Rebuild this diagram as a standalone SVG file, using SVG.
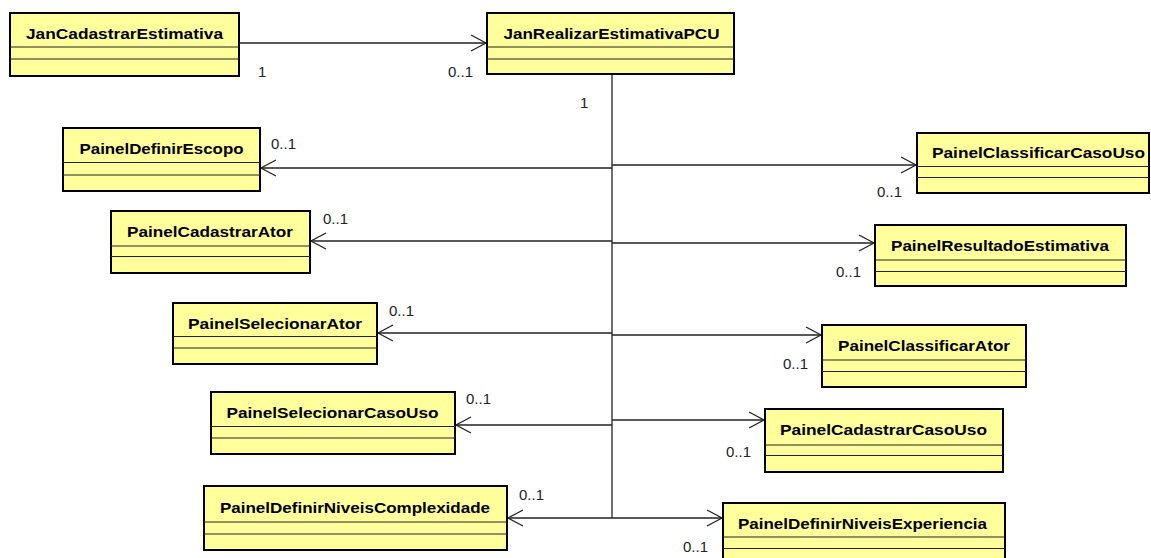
<svg xmlns="http://www.w3.org/2000/svg" width="1151" height="558" viewBox="0 0 1151 558">
  <style>
    .box { fill: #ffff9c; stroke: #000; stroke-width: 2; }
    .sep { stroke: #222; stroke-width: 1; }
    .title { font-family: "Liberation Sans", Arial, sans-serif; font-size: 15px; font-weight: bold; fill: #000; text-anchor: middle; }
    .mult { font-family: "Liberation Sans", Arial, sans-serif; font-size: 15px; fill: #222; }
    .link { stroke: #222; stroke-width: 1.3; fill: none; }
  </style>
  <defs>
    <marker id="open" markerUnits="userSpaceOnUse" markerWidth="18" markerHeight="20" viewBox="0 0 18 20" refX="16" refY="10" orient="auto">
      <path d="M1,2 L16,10 L1,18" fill="none" stroke="#222" stroke-width="1.3"/>
    </marker>
  </defs>

  <g id="connectors">
    <line class="link" x1="240" y1="43" x2="486" y2="43" marker-end="url(#open)"/>
    <line class="link" x1="612" y1="74" x2="612" y2="518"/>
    <line class="link" x1="612" y1="168" x2="261" y2="168" marker-end="url(#open)"/>
    <line class="link" x1="612" y1="165" x2="916" y2="165" marker-end="url(#open)"/>
    <line class="link" x1="612" y1="241" x2="311" y2="241" marker-end="url(#open)"/>
    <line class="link" x1="612" y1="243" x2="874" y2="243" marker-end="url(#open)"/>
    <line class="link" x1="612" y1="333" x2="378" y2="333" marker-end="url(#open)"/>
    <line class="link" x1="612" y1="335" x2="821" y2="335" marker-end="url(#open)"/>
    <line class="link" x1="612" y1="425" x2="456" y2="425" marker-end="url(#open)"/>
    <line class="link" x1="612" y1="420" x2="764" y2="420" marker-end="url(#open)"/>
    <line class="link" x1="612" y1="518" x2="508" y2="518" marker-end="url(#open)"/>
    <line class="link" x1="612" y1="518" x2="722" y2="518" marker-end="url(#open)"/>
    <text class="mult" x="258" y="77">1</text>
    <text class="mult" x="448" y="77">0..1</text>
    <text class="mult" x="580" y="108">1</text>
    <text class="mult" x="271" y="149">0..1</text>
    <text class="mult" x="877" y="197">0..1</text>
    <text class="mult" x="323" y="224">0..1</text>
    <text class="mult" x="836" y="277">0..1</text>
    <text class="mult" x="389" y="316">0..1</text>
    <text class="mult" x="783" y="369">0..1</text>
    <text class="mult" x="466" y="404">0..1</text>
    <text class="mult" x="726" y="457">0..1</text>
    <text class="mult" x="519" y="500">0..1</text>
    <text class="mult" x="683" y="552">0..1</text>
  </g>

  <g id="JanCadastrarEstimativa">
    <rect class="box" x="10" y="13" width="229" height="63"/>
    <line class="sep" x1="10" y1="47" x2="239" y2="47"/>
    <line class="sep" x1="10" y1="59" x2="239" y2="59"/>
    <text class="title" x="124.5" y="38.5" textLength="197" lengthAdjust="spacingAndGlyphs">JanCadastrarEstimativa</text>
  </g>

  <g id="JanRealizarEstimativaPCU">
    <rect class="box" x="487" y="13" width="247" height="61"/>
    <line class="sep" x1="487" y1="47" x2="734" y2="47"/>
    <line class="sep" x1="487" y1="59" x2="734" y2="59"/>
    <text class="title" x="611.5" y="38.5" textLength="216" lengthAdjust="spacingAndGlyphs">JanRealizarEstimativaPCU</text>
  </g>

  <g id="PainelDefinirEscopo">
    <rect class="box" x="63" y="128" width="197" height="63"/>
    <line class="sep" x1="63" y1="162.5" x2="260" y2="162.5"/>
    <line class="sep" x1="63" y1="175" x2="260" y2="175"/>
    <text class="title" x="161.5" y="154" textLength="164" lengthAdjust="spacingAndGlyphs">PainelDefinirEscopo</text>
  </g>

  <g id="PainelClassificarCasoUso">
    <rect class="box" x="917" y="133" width="232" height="60"/>
    <line class="sep" x1="917" y1="166.5" x2="1149" y2="166.5"/>
    <line class="sep" x1="917" y1="177.5" x2="1149" y2="177.5"/>
    <text class="title" x="1038.5" y="158" textLength="213" lengthAdjust="spacingAndGlyphs">PainelClassificarCasoUso</text>
  </g>

  <g id="PainelCadastrarAtor">
    <rect class="box" x="111" y="211" width="199" height="62"/>
    <line class="sep" x1="111" y1="246" x2="310" y2="246"/>
    <line class="sep" x1="111" y1="256.5" x2="310" y2="256.5"/>
    <text class="title" x="210" y="237" textLength="166" lengthAdjust="spacingAndGlyphs">PainelCadastrarAtor</text>
  </g>

  <g id="PainelResultadoEstimativa">
    <rect class="box" x="875" y="225" width="251" height="61"/>
    <line class="sep" x1="875" y1="260" x2="1126" y2="260"/>
    <line class="sep" x1="875" y1="271.5" x2="1126" y2="271.5"/>
    <text class="title" x="1000" y="251" textLength="218" lengthAdjust="spacingAndGlyphs">PainelResultadoEstimativa</text>
  </g>

  <g id="PainelSelecionarAtor">
    <rect class="box" x="173" y="303" width="204" height="61"/>
    <line class="sep" x1="173" y1="336.5" x2="377" y2="336.5"/>
    <line class="sep" x1="173" y1="348" x2="377" y2="348"/>
    <text class="title" x="275" y="328.5" textLength="174" lengthAdjust="spacingAndGlyphs">PainelSelecionarAtor</text>
  </g>

  <g id="PainelClassificarAtor">
    <rect class="box" x="822" y="325" width="204" height="62"/>
    <line class="sep" x1="822" y1="360" x2="1026" y2="360"/>
    <line class="sep" x1="822" y1="371.5" x2="1026" y2="371.5"/>
    <text class="title" x="924" y="351" textLength="172" lengthAdjust="spacingAndGlyphs">PainelClassificarAtor</text>
  </g>

  <g id="PainelSelecionarCasoUso">
    <rect class="box" x="211" y="392" width="244" height="62"/>
    <line class="sep" x1="211" y1="426.5" x2="455" y2="426.5"/>
    <line class="sep" x1="211" y1="438" x2="455" y2="438"/>
    <text class="title" x="332.5" y="417.5" textLength="212" lengthAdjust="spacingAndGlyphs">PainelSelecionarCasoUso</text>
  </g>

  <g id="PainelCadastrarCasoUso">
    <rect class="box" x="765" y="409" width="238" height="63"/>
    <line class="sep" x1="765" y1="445" x2="1003" y2="445"/>
    <line class="sep" x1="765" y1="455.5" x2="1003" y2="455.5"/>
    <text class="title" x="883.5" y="435" textLength="207" lengthAdjust="spacingAndGlyphs">PainelCadastrarCasoUso</text>
  </g>

  <g id="PainelDefinirNiveisComplexidade">
    <rect class="box" x="204" y="486" width="303" height="64"/>
    <line class="sep" x1="204" y1="522" x2="507" y2="522"/>
    <line class="sep" x1="204" y1="534" x2="507" y2="534"/>
    <text class="title" x="355" y="512.5" textLength="270" lengthAdjust="spacingAndGlyphs">PainelDefinirNiveisComplexidade</text>
  </g>

  <g id="PainelDefinirNiveisExperiencia">
    <rect class="box" x="723" y="503" width="282" height="64"/>
    <line class="sep" x1="723" y1="537" x2="1005" y2="537"/>
    <line class="sep" x1="723" y1="548.5" x2="1005" y2="548.5"/>
    <text class="title" x="862.5" y="529" textLength="249" lengthAdjust="spacingAndGlyphs">PainelDefinirNiveisExperiencia</text>
  </g>
</svg>
